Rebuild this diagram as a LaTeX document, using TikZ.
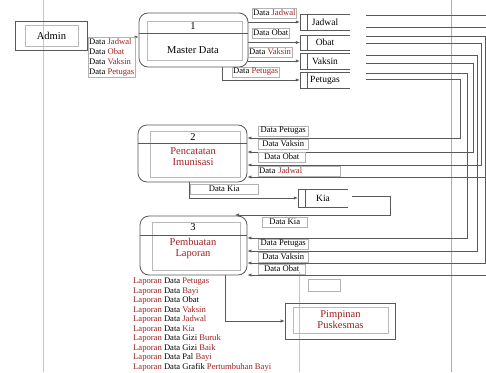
\documentclass[tikz,border=0pt]{standalone}
\usepackage{fontspec}
\setmainfont{Liberation Serif}
\usetikzlibrary{arrows.meta,calc}
\definecolor{lc}{gray}{0.35}
\definecolor{rd}{rgb}{0.62,0.12,0.12}
\tikzset{
 ln/.style={draw=lc, line width=0.6pt},
 flow/.style={ln, -{Latex[length=4pt,width=3.2pt]}},
 proc/.style={draw=lc, line width=0.8pt, rounded corners=9pt},
 inbox/.style={draw=gray!55, line width=0.4pt},
 lbl/.style={font=\fontsize{8.6}{10}\selectfont, inner sep=1pt, draw=gray!60, line width=0.4pt, anchor=west, minimum height=10pt},
 ptxt/.style={font=\fontsize{10.5}{11}\selectfont, inner sep=0pt, align=center},
 storetxt/.style={font=\fontsize{9.5}{10}\selectfont, inner sep=0pt, minimum width=50pt, minimum height=16pt},
}
\newcommand\dstore[5]{%
 \node[storetxt, minimum height=#5] (#1) at (#2,#3) {#4};
 \draw[ln] (#1.north east) -- (#1.north west) -- (#1.south west) -- (#1.south east);
 \draw[ln] ([xshift=7pt]#1.north west) -- ([xshift=7pt]#1.south west);
}
\begin{document}
\begin{tikzpicture}[x=1pt,y=-1pt]
\useasboundingbox (0,0) rectangle (486,372);
\fill[white] (0,0) rectangle (486,372);
% guide lines
\draw[gray!45, line width=0.9pt] (43,0) -- (43,372);
\draw[gray!65, line width=0.6pt] (451,0) -- (451,372);
\draw[gray!45, line width=0.6pt] (299,272) -- (299,372);

% Admin
\node[draw=lc, line width=0.6pt, minimum width=72pt, minimum height=29pt] (admino) at (51,35.5) {};
\node[inbox, minimum width=53pt, minimum height=21pt, font=\fontsize{10.5}{12}\selectfont] (admin) at (51.5,35.5) {Admin};

% Process 1
\node[proc, minimum width=109pt, minimum height=54pt] (p1) at (193.5,40) {};
\draw[inbox] (147,21) rectangle (242,60);
\coordinate (d1) at (0,33);
\draw[ln] (p1.west |- d1) -- (p1.east |- d1);
\node[ptxt] (p1n) at (193,26) {1};
\node[ptxt] (p1t) at (193,50) {Master Data};

% Process 2
\node[proc, minimum width=109pt, minimum height=57pt] (p2) at (192.5,153.5) {};
\draw[inbox] (150,131) rectangle (240,177);
\coordinate (d2) at (0,143);
\draw[ln] (p2.west |- d2) -- (p2.east |- d2);
\node[ptxt] (p2n) at (193,137) {2};
\node[ptxt, text=rd] (p2t) at (193,157) {Pencatatan\\Imunisasi};

% Process 3
\node[proc, minimum width=107pt, minimum height=59pt] (p3) at (193.5,245.5) {};
\draw[inbox] (152,222) rectangle (240,270);
\coordinate (d3) at (0,235);
\draw[ln] (p3.west |- d3) -- (p3.east |- d3);
\node[ptxt] (p3n) at (193,227) {3};
\node[ptxt, text=rd] (p3t) at (193,248) {Pembuatan\\Laporan};

% Pimpinan
\node[draw=lc, line width=0.6pt, minimum width=110pt, minimum height=36pt] (pim) at (340,321) {};
\node[inbox, minimum width=95pt, minimum height=26pt, ptxt, text=rd] (pimi) at (340.5,320) {Pimpinan\\Puskesmas};

% Data stores
\dstore{sj}{325}{22}{Jadwal}{16pt}
\dstore{so}{325}{42.5}{Obat}{15pt}
\dstore{sv}{325}{61}{Vaksin}{16pt}
\dstore{sp}{325}{80}{Petugas}{16pt}
\dstore{sk}{323}{198}{Kia}{18pt}

% Admin -> P1
\coordinate (ya) at (0,37);
\draw[flow] (admino.east |- ya) -- (p1.west |- ya);
\node[lbl, anchor=north west, align=left, font=\fontsize{8.6}{10}\selectfont] (la) at (88,37)
 {Data \textcolor{rd}{Jadwal}\\Data \textcolor{rd}{Obat}\\Data \textcolor{rd}{Vaksin}\\Data \textcolor{rd}{Petugas}};

% P1 -> stores
\draw[flow] (p1.east |- sj.west) -- (sj.west);
\draw[flow] (p1.east |- so.west) -- (so.west);
\draw[flow] (p1.east |- sv.west) -- (sv.west);
\coordinate (c1) at (222,0);
\draw[flow] (p1.south -| c1) |- (sp.west);
\node[lbl] (l1) at (252,13) {Data \textcolor{rd}{Jadwal}};
\node[lbl] (l2) at (252,33) {Data Obat};
\node[lbl] (l3) at (248,52) {Data \textcolor{rd}{Vaksin}};
\node[lbl] (l4) at (232,72) {Data \textcolor{rd}{Petugas}};

% stores -> P2 / P3 (right-hand routes)
\coordinate (oA) at (366,79); \coordinate (rA) at (460,138);
\coordinate (oB) at (366,73); \coordinate (rB) at (467,238);
\coordinate (oC) at (366,63); \coordinate (rC) at (473,152);
\coordinate (oD) at (366,55); \coordinate (rD) at (477,251);
\coordinate (oE) at (366,43); \coordinate (rE) at (481,165);
\coordinate (oF) at (366,36); \coordinate (rF) at (485,263);
\coordinate (oG) at (366,27); \coordinate (eG) at (486,27);
\coordinate (oH) at (366,15); \coordinate (eH) at (486,15);
\coordinate (eI) at (486,177);
\coordinate (eJ) at (486,275);
\draw[flow] (oA) -| (rA) -- (p2.east |- rA);
\draw[flow] (oB) -| (rB) -- (p3.east |- rB);
\draw[flow] (oC) -| (rC) -- (p2.east |- rC);
\draw[flow] (oD) -| (rD) -- (p3.east |- rD);
\draw[flow] (oE) -| (rE) -- (p2.east |- rE);
\draw[flow] (oF) -| (rF) -- (p3.east |- rF);
\draw[ln] (oG) -- (eG);
\draw[ln] (oH) -- (eH);
\draw[flow] (eI) -- (p2.east |- eI);
\draw[flow] (eJ) -- (p3.east |- eJ);

% P2 labels
\node[lbl, minimum width=50pt] (m1) at (258,131) {Data Petugas};
\node[lbl, minimum width=50pt] (m2) at (258,144) {Data Vaksin};
\node[lbl, minimum width=47pt] (m3) at (258,157) {Data Obat};
\node[lbl, text width=80pt, align=left] (m4) at (258,171) {Data \textcolor{rd}{Jadwal}};

% P2 -> Kia
\coordinate (k1) at (189,0);
\draw[flow] (p2.south -| k1) |- (sk.west);
\node[lbl, minimum width=68pt] (lk1) at (190,189) {Data Kia};

% Kia -> P3
\coordinate (k2) at (352,196);
\coordinate (k3) at (390,215);
\coordinate (k4) at (235,215);
\draw[flow] (k2) -| (k3) -- (k4);
\node[lbl, minimum width=45pt] (lk2) at (262,222) {Data Kia};

% P3 labels
\node[lbl, minimum width=50pt] (n1) at (258,244) {Data Petugas};
\node[lbl, minimum width=50pt] (n2) at (258,257) {Data Vaksin};
\node[lbl, minimum width=47pt] (n3) at (258,269) {Data Obat};
\node[draw=gray!60, line width=0.4pt, minimum width=32pt, minimum height=12pt, inner sep=0pt] (eb) at (324,285) {};

% P3 -> Pimpinan
\coordinate (q1) at (225,0);
\draw[flow] (p3.south -| q1) |- (pim.west);
\node[anchor=north west, inner sep=0pt, align=left, font=\fontsize{8.6}{9.5}\selectfont] (lst) at (133,278)
 {\textcolor{rd}{Laporan} Data \textcolor{rd}{Petugas}\\
  \textcolor{rd}{Laporan} Data \textcolor{rd}{Bayi}\\
  \textcolor{rd}{Laporan} Data Obat\\
  \textcolor{rd}{Laporan} Data \textcolor{rd}{Vaksin}\\
  \textcolor{rd}{Laporan} Data \textcolor{rd}{Jadwal}\\
  \textcolor{rd}{Laporan} Data \textcolor{rd}{Kia}\\
  \textcolor{rd}{Laporan} Data Gizi \textcolor{rd}{Buruk}\\
  \textcolor{rd}{Laporan} Data Gizi \textcolor{rd}{Baik}\\
  \textcolor{rd}{Laporan} Data Pal \textcolor{rd}{Bayi}\\
  \textcolor{rd}{Laporan} Data Grafik \textcolor{rd}{Pertumbuhan} \textcolor{rd}{Bayi}};
\end{tikzpicture}
\end{document}
